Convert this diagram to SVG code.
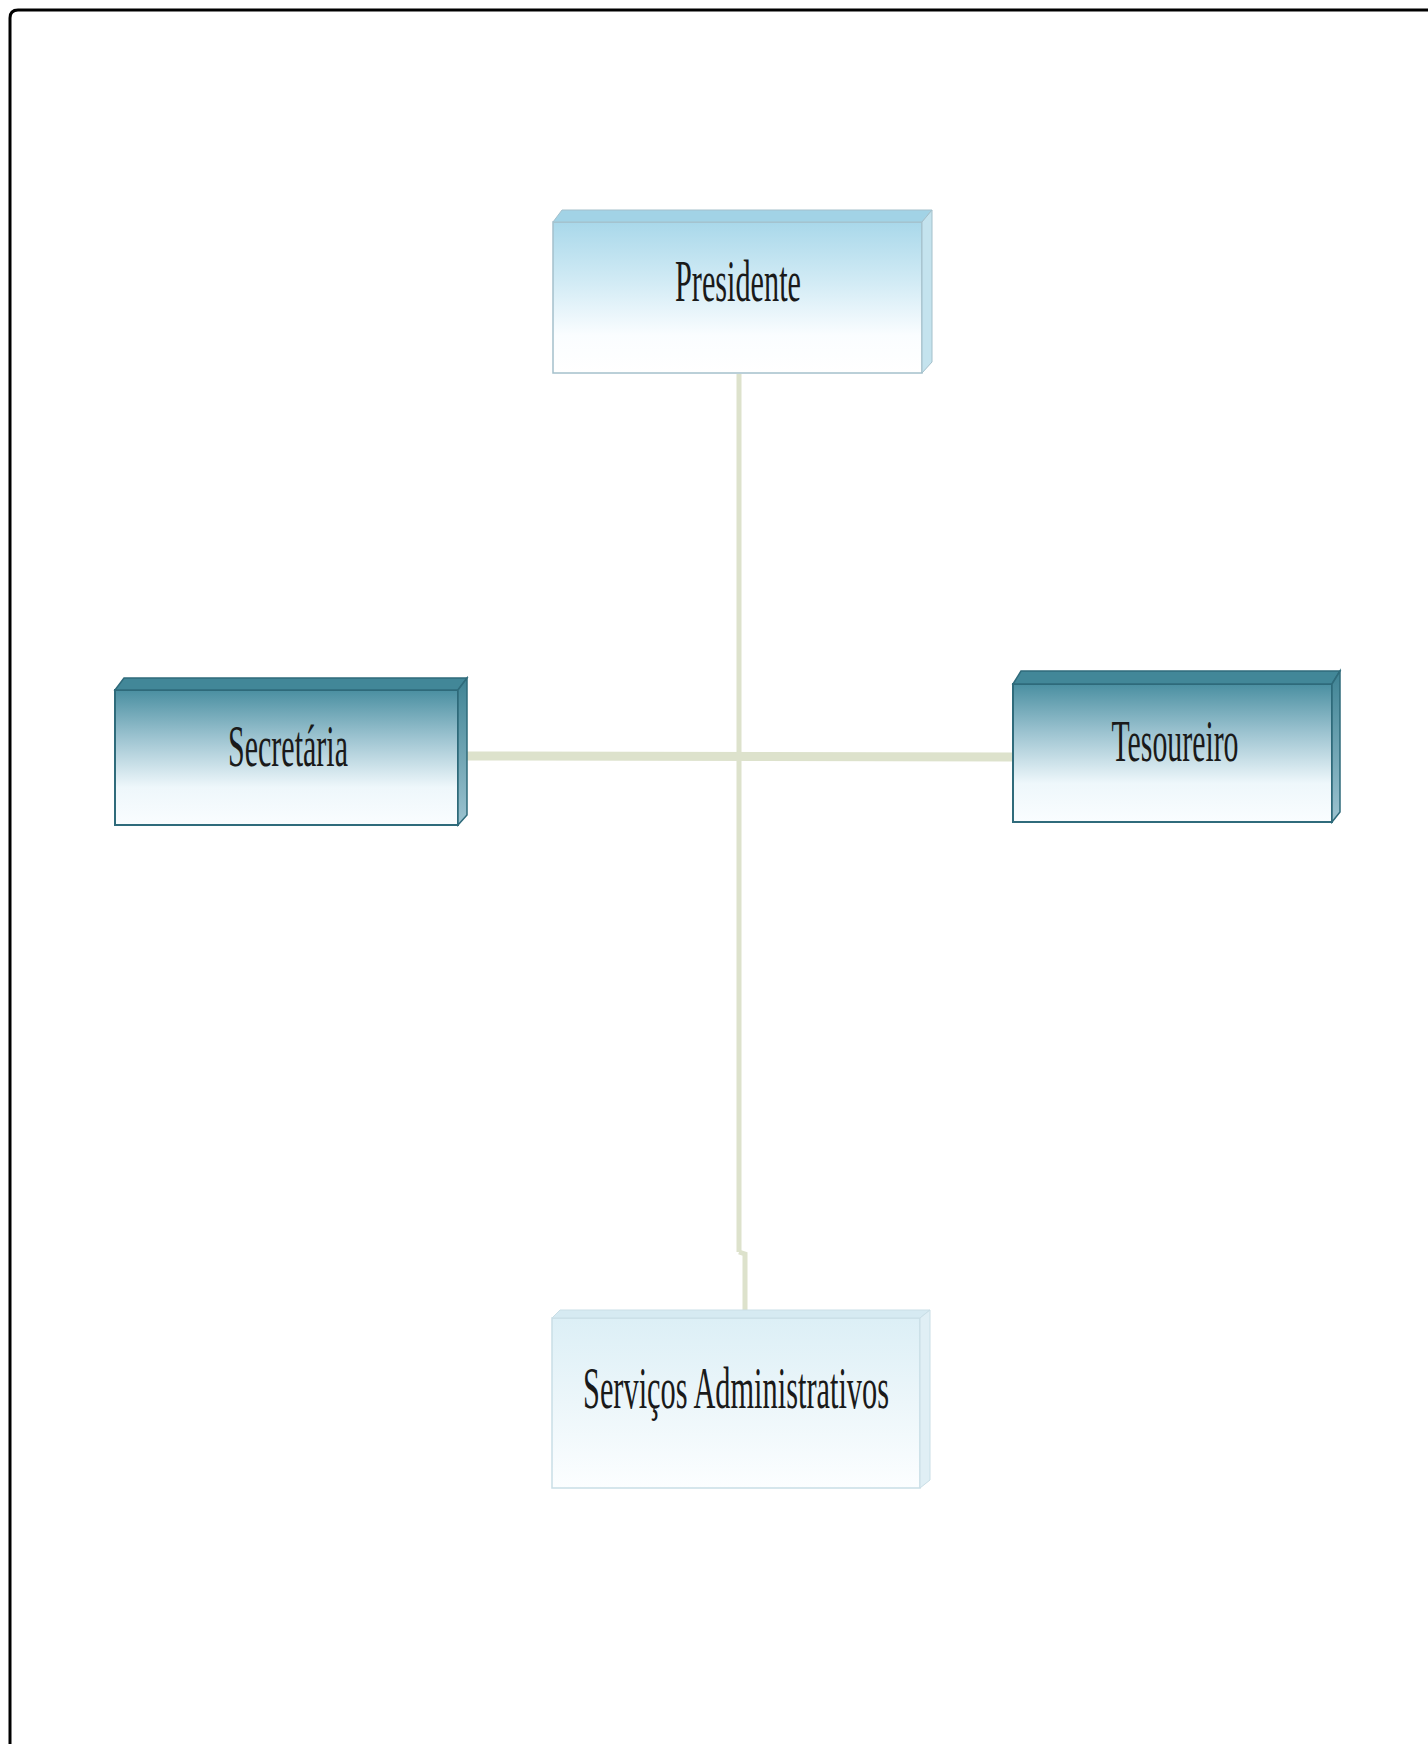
<svg xmlns="http://www.w3.org/2000/svg" width="1428" height="1744" viewBox="0 0 1428 1744">
  <defs>
    <linearGradient id="gLight" x1="0" y1="0" x2="0" y2="1">
      <stop offset="0" stop-color="#a9d8ea"/>
      <stop offset="0.4" stop-color="#d2ebf5"/>
      <stop offset="0.75" stop-color="#fafdff"/>
      <stop offset="1" stop-color="#ffffff"/>
    </linearGradient>
    <linearGradient id="gDark" x1="0" y1="0" x2="0" y2="1">
      <stop offset="0" stop-color="#4a8fa1"/>
      <stop offset="0.35" stop-color="#9cc3d0"/>
      <stop offset="0.72" stop-color="#eef7fb"/>
      <stop offset="1" stop-color="#fafdff"/>
    </linearGradient>
    <linearGradient id="gPale" x1="0" y1="0" x2="0" y2="1">
      <stop offset="0" stop-color="#dceff6"/>
      <stop offset="0.5" stop-color="#ecf6fa"/>
      <stop offset="1" stop-color="#fcfeff"/>
    </linearGradient>
    <linearGradient id="gSideDark" x1="0" y1="0" x2="0" y2="1">
      <stop offset="0" stop-color="#3f8394"/>
      <stop offset="1" stop-color="#9cc3d0"/>
    </linearGradient>
  </defs>
  <style>
    .lbl { font-family: "Liberation Serif", "Times New Roman", serif; font-size: 60px; fill: #1a1a1a; text-anchor: middle; }
    .conn { stroke: #dde2cc; fill: none; stroke-linecap: butt; }
    .light .front { fill: url(#gLight); stroke: #a4c0cb; stroke-width: 1.5; }
    .light .top { fill: #a2d3e6; stroke: #a4c0cb; stroke-width: 1; }
    .light .side { fill: #c4e3ee; stroke: #a4c0cb; stroke-width: 1; }
    .dark .front { fill: url(#gDark); stroke: #2f6b7b; stroke-width: 2; }
    .dark .top { fill: #428798; stroke: #2f6b7b; stroke-width: 1.5; }
    .dark .side { fill: url(#gSideDark); stroke: #2f6b7b; stroke-width: 1.5; }
    .pale .front { fill: url(#gPale); stroke: #c9dee6; stroke-width: 1.5; }
    .pale .top { fill: #d6eaf2; stroke: #c9dee6; stroke-width: 1; }
    .pale .side { fill: #e0eff5; stroke: #c9dee6; stroke-width: 1; }
  </style>
  <rect x="0" y="0" width="1428" height="1744" fill="#ffffff"/>
  <path d="M10,1744 L10,18 Q10,10 18,10 L1428,10" fill="none" stroke="#000000" stroke-width="3"/>

  <g id="connectors">
    <line class="conn" x1="739" y1="374" x2="739" y2="1252" stroke-width="5"/>
    <path class="conn" d="M739,1252 L745,1254 L745,1312" stroke-width="5"/>
    <line class="conn" x1="467" y1="756" x2="1013" y2="757" stroke-width="9"/>
  </g>

  <g id="presidente" class="light">
    <rect class="front" x="553" y="222" width="369" height="151"/>
    <polygon class="top" points="553,222 562,210 932,210 922,222"/>
    <polygon class="side" points="922,222 932,210 932,362 922,373"/>
    <text class="lbl" x="738" y="301" textLength="126" lengthAdjust="spacingAndGlyphs">Presidente</text>
  </g>

  <g id="secretaria" class="dark">
    <rect class="front" x="115" y="690" width="343" height="135"/>
    <polygon class="top" points="115,690 124,678 467,678 458,690"/>
    <polygon class="side" points="458,690 467,678 467,815 458,825"/>
    <text class="lbl" x="288" y="766" textLength="120" lengthAdjust="spacingAndGlyphs">Secretária</text>
  </g>

  <g id="tesoureiro" class="dark">
    <rect class="front" x="1013" y="684" width="319" height="138"/>
    <polygon class="top" points="1013,684 1021,671 1340,671 1332,684"/>
    <polygon class="side" points="1332,684 1340,671 1340,812 1332,822"/>
    <text class="lbl" x="1175" y="761" textLength="127" lengthAdjust="spacingAndGlyphs">Tesoureiro</text>
  </g>

  <g id="servicos" class="pale">
    <rect class="front" x="552" y="1318" width="368" height="170"/>
    <polygon class="top" points="552,1318 560,1310 930,1310 920,1318"/>
    <polygon class="side" points="920,1318 930,1310 930,1480 920,1488"/>
    <text class="lbl" x="736" y="1408" textLength="306" lengthAdjust="spacingAndGlyphs">Serviços Administrativos</text>
  </g>
</svg>
